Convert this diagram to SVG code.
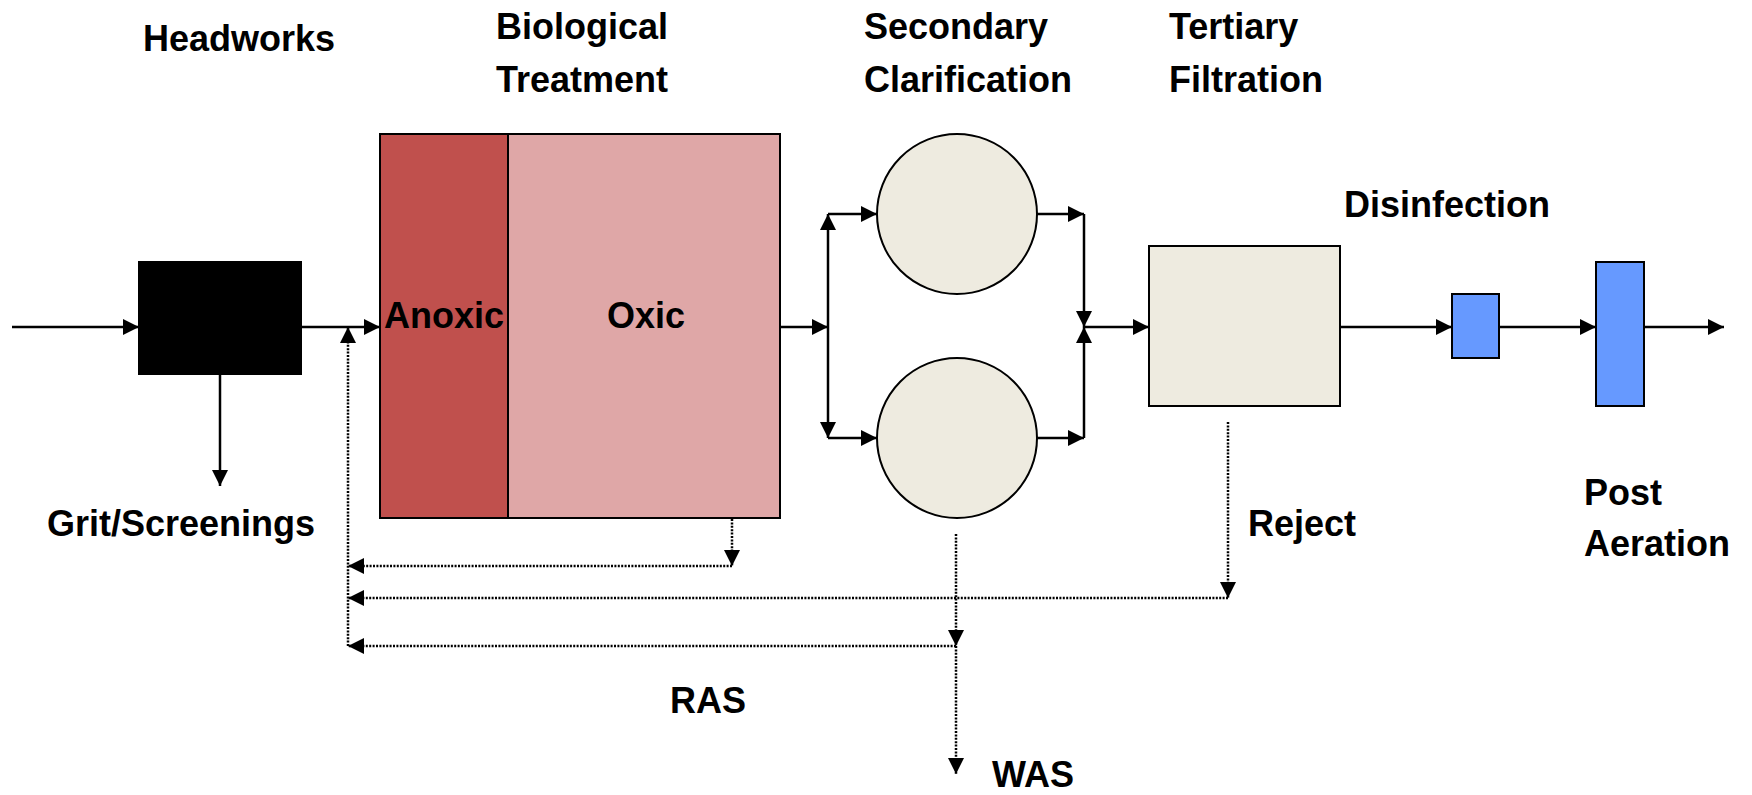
<svg xmlns="http://www.w3.org/2000/svg" width="1752" height="795" viewBox="0 0 1752 795">
<style>
.lbl{font-family:"Liberation Sans",Arial,sans-serif;font-weight:bold;font-size:36px;fill:#000}
.box{stroke:#000;stroke-width:2}
.flow{fill:none;stroke:#000;stroke-width:2.5;marker-end:url(#ah)}
.dot{fill:none;stroke:#000;stroke-width:2.5;stroke-dasharray:2 1.4;marker-end:url(#ah)}
</style>
<defs>
<marker id="ah" markerUnits="userSpaceOnUse" markerWidth="16" markerHeight="16" viewBox="0 0 15 15" refX="15" refY="7.5" orient="auto">
<path d="M0,0 L15,7.5 L0,15 z" fill="#000"/>
</marker>
</defs>
<rect width="1752" height="795" fill="#fff"/>
<g id="headworks">
<rect class="box" x="139" y="262" width="162" height="112" fill="#000"/>
<text class="lbl" x="143" y="51">Headworks</text>
</g>
<g id="grit">
<text class="lbl" x="47" y="536">Grit/Screenings</text>
</g>
<g id="biological">
<text class="lbl" x="496" y="39">Biological</text>
<text class="lbl" x="496" y="92">Treatment</text>
</g>
<g id="anoxic">
<rect class="box" x="380" y="134" width="128" height="384" fill="#C0504D"/>
<text class="lbl" x="444" y="328" text-anchor="middle">Anoxic</text>
</g>
<g id="oxic">
<rect class="box" x="508" y="134" width="272" height="384" fill="#DFA7A7"/>
<text class="lbl" x="646" y="328" text-anchor="middle">Oxic</text>
</g>
<g id="secondary">
<text class="lbl" x="864" y="39">Secondary</text>
<text class="lbl" x="864" y="92">Clarification</text>
</g>
<g id="clarifier1">
<circle class="box" cx="957" cy="214" r="80" fill="#EEEBE0"/>
</g>
<g id="clarifier2">
<circle class="box" cx="957" cy="438" r="80" fill="#EEEBE0"/>
</g>
<g id="tertiary">
<text class="lbl" x="1169" y="39">Tertiary</text>
<text class="lbl" x="1169" y="92">Filtration</text>
<rect class="box" x="1149" y="246" width="191" height="160" fill="#EEEBE0"/>
</g>
<g id="reject">
<text class="lbl" x="1248" y="536">Reject</text>
</g>
<g id="disinfection">
<rect class="box" x="1452" y="294" width="47" height="64" fill="#6699FF"/>
<text class="lbl" x="1344" y="217">Disinfection</text>
</g>
<g id="postaeration">
<rect class="box" x="1596" y="262" width="48" height="144" fill="#6699FF"/>
<text class="lbl" x="1584" y="505">Post</text>
<text class="lbl" x="1584" y="556">Aeration</text>
</g>
<g id="ras">
<text class="lbl" x="670" y="713">RAS</text>
</g>
<g id="was">
<text class="lbl" x="992" y="787">WAS</text>
</g>
<g id="connectors">
<path class="flow" d="M12,327 H139"/>
<path class="flow" d="M301,327 H380"/>
<path class="flow" d="M220,374 V486"/>
<path class="flow" d="M780,327 H828"/>
<path class="flow" d="M828,327 V214"/>
<path class="flow" d="M828,327 V438"/>
<path class="flow" d="M828,214 H877"/>
<path class="flow" d="M828,438 H877"/>
<path class="flow" d="M1037,214 H1084"/>
<path class="flow" d="M1037,438 H1084"/>
<path class="flow" d="M1084,214 V327"/>
<path class="flow" d="M1084,438 V327"/>
<path class="flow" d="M1084,327 H1149"/>
<path class="flow" d="M1340,327 H1452"/>
<path class="flow" d="M1499,327 H1596"/>
<path class="flow" d="M1644,327 H1724"/>
<path class="dot" d="M732,519 V566"/>
<path class="dot" d="M732,566 H348"/>
<path class="dot" d="M1228,422 V598"/>
<path class="dot" d="M1228,598 H348"/>
<path class="dot" d="M956,534 V646"/>
<path class="dot" d="M956,646 H348"/>
<path class="dot" d="M956,646 V774"/>
<path class="dot" d="M348,646 V327"/>
</g>
</svg>
